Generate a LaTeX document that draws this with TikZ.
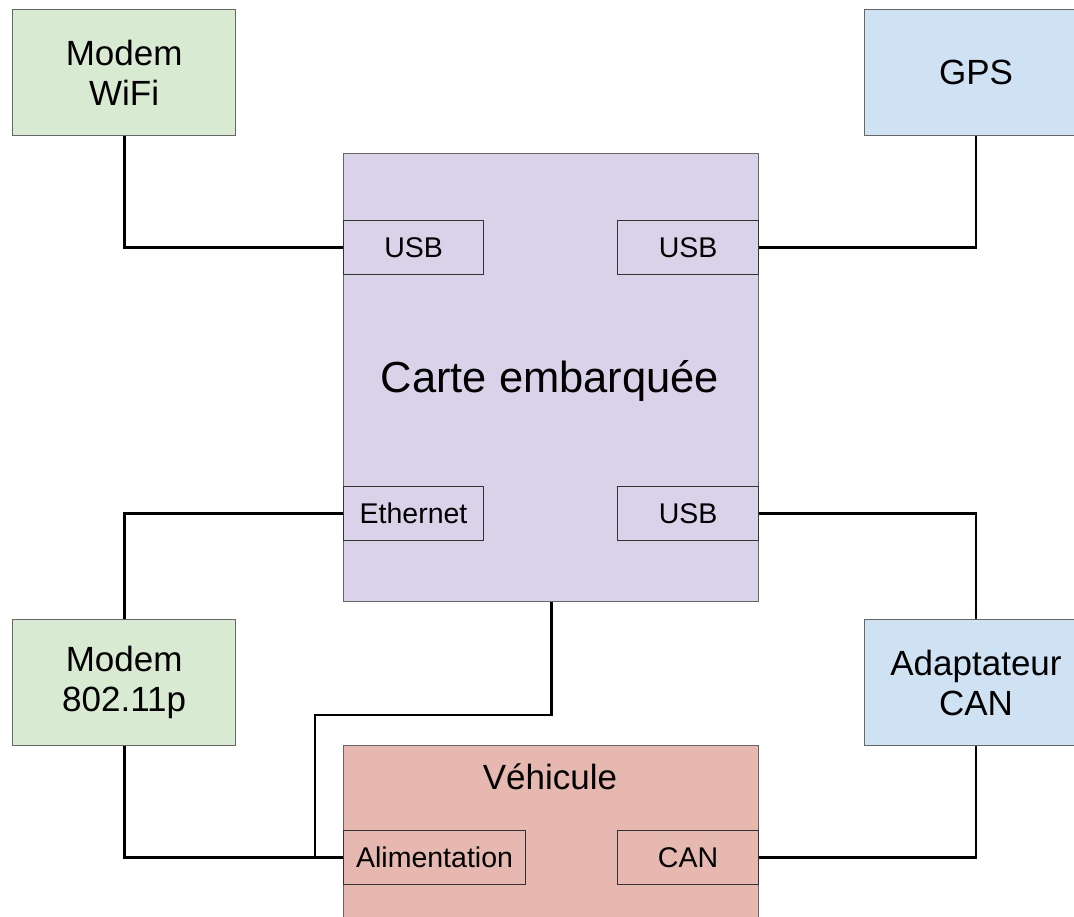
\documentclass[tikz,border=0pt]{standalone}
\usepackage{fontspec}
\setmainfont{Liberation Sans}
\definecolor{cgreen}{HTML}{D9EAD3}
\definecolor{cblue}{HTML}{CFE2F3}
\definecolor{cpurple}{HTML}{D9D2E9}
\definecolor{cred}{HTML}{E6B8AF}
\definecolor{cborder}{HTML}{666666}
\definecolor{pborder}{HTML}{333333}
\begin{document}
\begin{tikzpicture}[x=1pt,y=-1pt,
  box/.style={draw=cborder,line width=1.3pt,rectangle,inner sep=0pt,align=center,
    font=\fontsize{35}{40}\selectfont},
  port/.style={draw=pborder,line width=1.1pt,rectangle,inner sep=0pt,align=center,anchor=north west,
    font=\fontsize{28.5}{32}\selectfont,minimum height=54pt},
  wire/.style={line width=2.7pt,black}]
\useasboundingbox (0,0) rectangle (1074,917);
\clip (0,0) rectangle (1074,917);
\fill[white] (0,0) rectangle (1074,917);
% outer boxes
\node[box,fill=cgreen,minimum width=223pt,minimum height=126pt,anchor=north west] (wifi) at (12,9) {Modem\\WiFi};
\node[box,fill=cblue,minimum width=223pt,minimum height=126pt,anchor=north] (gps) at (976,9) {GPS};
\node[box,fill=cpurple,minimum width=415pt,minimum height=448pt,anchor=north west] (carte) at (343,153) {};
\node[font=\fontsize{43.5}{48}\selectfont] (cartelabel) at (550,381) {Carte embarquée};
\node[box,fill=cgreen,minimum width=223pt,minimum height=126pt,anchor=north west] (m80211) at (12,619) {Modem\\802.11p};
\node[box,fill=cblue,minimum width=223pt,minimum height=126pt,anchor=north] (adapt) at (976,619) {Adaptateur\\CAN};
\node[box,fill=cred,minimum width=415pt,minimum height=200pt,anchor=north west] (veh) at (343,745) {};
\node[font=\fontsize{35}{40}\selectfont] (vehlabel) at (550,777) {Véhicule};
% ports
\node[port,minimum width=140pt] (usbL) at (343,220) {USB};
\node[port,minimum width=141pt] (usbR) at (617,220) {USB};
\node[port,minimum width=140pt] (eth) at (343,486) {Ethernet};
\node[port,minimum width=141pt] (usbB) at (617,486) {USB};
\node[port,minimum width=182pt] (alim) at (343,830) {Alimentation};
\node[port,minimum width=141pt] (canp) at (617,830) {CAN};
% junction coordinates
\coordinate (j1) at (315,715);
\coordinate (j2) at (315,857);
% wires
\draw[wire] (wifi.south) |- (usbL.west);
\draw[wire] (gps.south) |- (usbR.east);
\draw[wire] (eth.west) -| (m80211.north);
\draw[wire] (usbB.east) -| (adapt.north);
\draw[wire] (m80211.south) |- (alim.west);
\draw[wire] (carte.south) |- (j1) -- (j2);
\draw[wire] (adapt.south) |- (canp.east);
\end{tikzpicture}
\end{document}
